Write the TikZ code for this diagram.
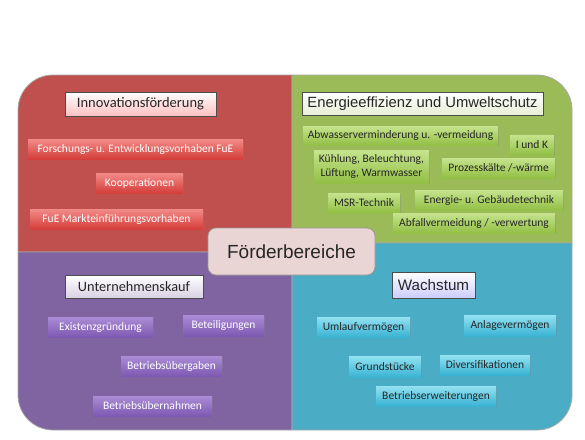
\documentclass[tikz,border=0pt]{standalone}
\usepackage{fontspec}
\setmainfont{Carlito}
\newfontfamily\arialfont{Liberation Sans}
\usetikzlibrary{shadows}

\definecolor{redq}{HTML}{C0504D}
\definecolor{greenq}{HTML}{9BBB59}
\definecolor{purpleq}{HTML}{8064A2}
\definecolor{blueq}{HTML}{4BACC6}
\definecolor{redt}{HTML}{F28B88}
\definecolor{redb}{HTML}{D43E3B}
\definecolor{greent}{HTML}{C6E48E}
\definecolor{greenb}{HTML}{92BF45}
\definecolor{purplet}{HTML}{AB8CD6}
\definecolor{purpleb}{HTML}{7E59B2}
\definecolor{bluet}{HTML}{92E2F2}
\definecolor{blueb}{HTML}{3AB3D3}
\definecolor{centrefill}{HTML}{EAD5D5}

\begin{document}
\begin{tikzpicture}[x=1pt, y=-1pt,
    quad/.style={draw=gray!70, line width=0.8pt},
    sz/.style 2 args={minimum width=#1pt, minimum height=#2pt},
    lab/.style={rectangle, inner sep=0pt, font=\fontsize{11.5}{14}\selectfont,
        drop shadow={shadow xshift=0.7pt, shadow yshift=-1.2pt, opacity=0.35}},
    redlab/.style={lab, top color=redt, bottom color=redb, text=white},
    greenlab/.style={lab, top color=greent, bottom color=greenb, text=black!85},
    purplelab/.style={lab, top color=purplet, bottom color=purpleb, text=white},
    bluelab/.style={lab, top color=bluet, bottom color=blueb, text=black!85},
    titlebox/.style={rectangle, draw=gray!60!black, line width=1pt, inner sep=0pt,
        text=black!85, font=\fontsize{14.5}{16}\selectfont}
]
\useasboundingbox (0,0) rectangle (585,439);

% the four areas
\path[quad, fill=redq] (292,252) -- (18,252) [rounded corners=35pt] -- (18,75)
    [sharp corners] -- (292,75) -- cycle;
\path[quad, fill=greenq] (292,75) [rounded corners=35pt] -- (572,75)
    [sharp corners] -- (572,243) -- (292,243) -- cycle;
\path[quad, fill=purpleq] (18,252) [rounded corners=35pt] -- (18,430)
    [sharp corners] -- (292,430) -- (292,252) -- cycle;
\path[quad, fill=blueq] (292,243) -- (572,243) [rounded corners=35pt] -- (572,430)
    [sharp corners] -- (292,430) -- cycle;

% Innovationsfoerderung
\node[titlebox, sz={151}{24}, top color=white, bottom color=red!25] (inno) at (140.5,104) {Innovationsförderung};
\node[redlab, sz={215}{20}] (fue) at (135.5,149) {Forschungs- u. Entwicklungsvorhaben FuE};
\node[redlab, sz={87}{20}] (koop) at (139.5,183) {Kooperationen};
\node[redlab, sz={173}{20}] (markt) at (116.5,219) {FuE Markteinführungsvorhaben};

% Energieeffizienz und Umweltschutz
\node[titlebox, sz={241}{23}, top color=white, bottom color=greenq!25, font=\arialfont\fontsize{14.8}{16}\selectfont] (energie) at (422.5,103.5) {Energieeffizienz und Umweltschutz};
\node[greenlab, sz={195}{19}] (abw) at (400.5,135.5) {Abwasserverminderung u. -vermeidung};
\node[greenlab, sz={44}{20}] (iuk) at (532,145) {I und K};
\node[greenlab, sz={115}{33}, align=center] (kuehl) at (371.5,166.5) {Kühlung, Beleuchtung,\\Lüftung, Warmwasser};
\node[greenlab, sz={113}{20}] (proz) at (498.5,168) {Prozesskälte /-wärme};
\node[greenlab, sz={72}{20}] (msr) at (364,203) {MSR-Technik};
\node[greenlab, sz={148}{20}] (egt) at (489,200) {Energie- u. Gebäudetechnik};
\node[greenlab, sz={162}{20}] (abf) at (474,223) {Abfallvermeidung / -verwertung};

% Unternehmenskauf
\node[titlebox, sz={138}{23}, top color=white, bottom color=purpleq!30, font=\fontsize{14.3}{16}\selectfont] (unter) at (134,286.5) {Unternehmenskauf};
\node[purplelab, sz={105}{20}] (exist) at (100.5,327) {Existenzgründung};
\node[purplelab, sz={81}{21}] (beteil) at (223.5,325.5) {Beteiligungen};
\node[purplelab, sz={101}{20}] (uebergabe) at (171.5,366) {Betriebsübergaben};
\node[purplelab, sz={119}{20}] (uebernahme) at (152.5,406) {Betriebsübernahmen};

% Wachstum
\node[titlebox, sz={83}{26}, top color=white, bottom color=blue!20, font=\arialfont\fontsize{15.2}{17}\selectfont] (wachs) at (433.5,285) {Wachstum};
\node[bluelab, sz={93}{20}] (umlauf) at (363.5,327) {Umlaufvermögen};
\node[bluelab, sz={92}{21}] (anlage) at (510,325.5) {Anlagevermögen};
\node[bluelab, sz={72}{21}] (grund) at (385,366.5) {Grundstücke};
\node[bluelab, sz={90}{20}] (divers) at (485,365) {Diversifikationen};
\node[bluelab, sz={120}{20}] (erweit) at (436,396) {Betriebserweiterungen};

% centre
\node[rectangle, rounded corners=8pt, draw=gray!80, line width=0.8pt, fill=centrefill, sz={167}{47},
    font=\arialfont\fontsize{19}{21}\selectfont, text=black!85] (center) at (291.5,251.5) {Förderbereiche};
\end{tikzpicture}
\end{document}
